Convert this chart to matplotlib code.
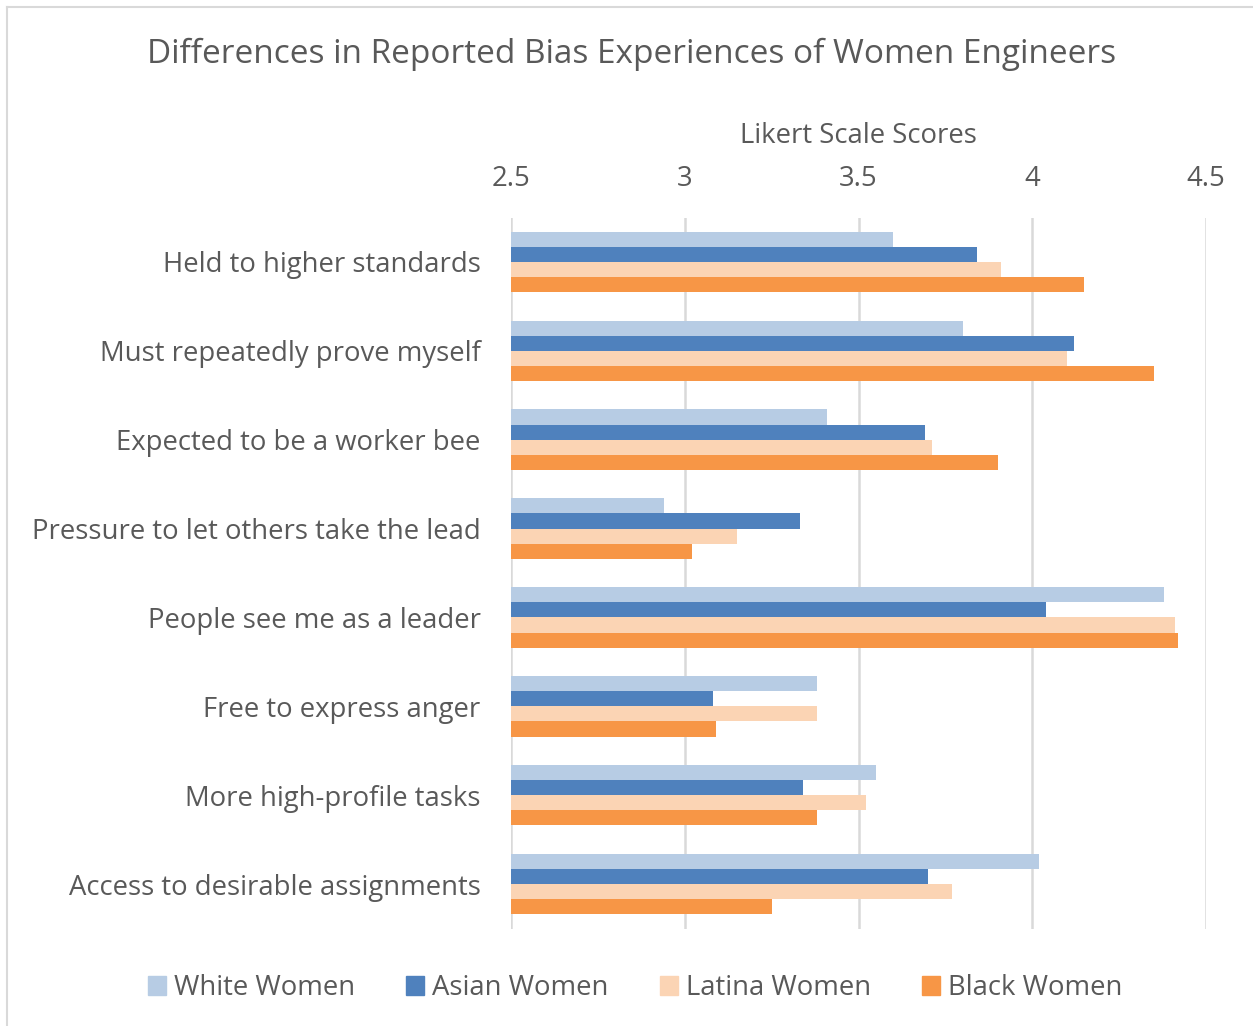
import numpy as np
import matplotlib.pyplot as plt
from matplotlib.lines import Line2D
from matplotlib.patches import Patch

plt.rcParams['font.family'] = ['Open Sans', 'DejaVu Sans']

categories = ["Held to higher standards", "Must repeatedly prove myself",
              "Expected to be a worker bee", "Pressure to let others take the lead",
              "People see me as a leader", "Free to express anger",
              "More high-profile tasks", "Access to desirable assignments"]
series = ["White Women", "Asian Women", "Latina Women", "Black Women"]
white = [3.60, 3.80, 3.41, 2.94, 4.38, 3.38, 3.55, 4.02]
asian = [3.84, 4.12, 3.69, 3.33, 4.04, 3.08, 3.34, 3.70]
latina = [3.91, 4.10, 3.71, 3.15, 4.41, 3.38, 3.52, 3.77]
black = [4.15, 4.35, 3.90, 3.02, 4.42, 3.09, 3.38, 3.25]
colors = ["#B7CCE4", "#4F81BD", "#FBD4B4", "#F79646"]
ticks = [2.5, 3, 3.5, 4, 4.5]

txt = "#595959"
fs = 19.8
fig = plt.figure(figsize=(12.53, 10.26), dpi=100)
ax = fig.add_axes([0.408, 0.095, 0.5545, 0.693])

y = np.arange(len(categories))
h = 0.17
for i, (vals, c) in enumerate(zip([white, asian, latina, black], colors)):
    ax.barh(y + (i - 1.5) * h, np.array(vals) - 2.5, left=2.5, height=h,
            color=c, label=series[i], zorder=3)

ax.set_xlim(2.5, 4.5)
ax.set_ylim(len(categories) - 0.5, -0.5)
ax.set_xticks(ticks)
ax.set_xticklabels(["2.5", "3", "3.5", "4", "4.5"])
ax.xaxis.tick_top()
ax.xaxis.set_label_position("top")
ax.set_xlabel("Likert Scale Scores", fontsize=fs, color=txt, labelpad=16)
ax.set_yticks(y)
ax.set_yticklabels(categories)
ax.tick_params(axis='x', length=0, labelsize=fs, labelcolor=txt, pad=17.5)
ax.tick_params(axis='y', length=0, labelsize=fs, labelcolor=txt, pad=22)
ax.grid(axis='x', color="#D9D9D9", linewidth=1.8, zorder=0)
for s in ax.spines.values():
    s.set_visible(False)

fig.text(0.504, 0.947, "Differences in Reported Bias Experiences of Women Engineers",
         ha='center', va='center', fontsize=24, color=txt)

handles = [Patch(color=c) for c in colors]
fig.legend(handles, series, loc='center', bbox_to_anchor=(0.507, 0.037), ncol=4,
           frameon=False, fontsize=fs, labelcolor=txt, handlelength=0.65,
           handleheight=0.65, handletextpad=0.3, columnspacing=1.85)

fig.add_artist(Line2D([7/1253, 7/1253], [0, 1 - 7/1026], color="#D9D9D9", lw=1.5))
fig.add_artist(Line2D([7/1253, 1], [1 - 7/1026, 1 - 7/1026], color="#D9D9D9", lw=1.5))

fig.savefig("out.png", dpi=100)
